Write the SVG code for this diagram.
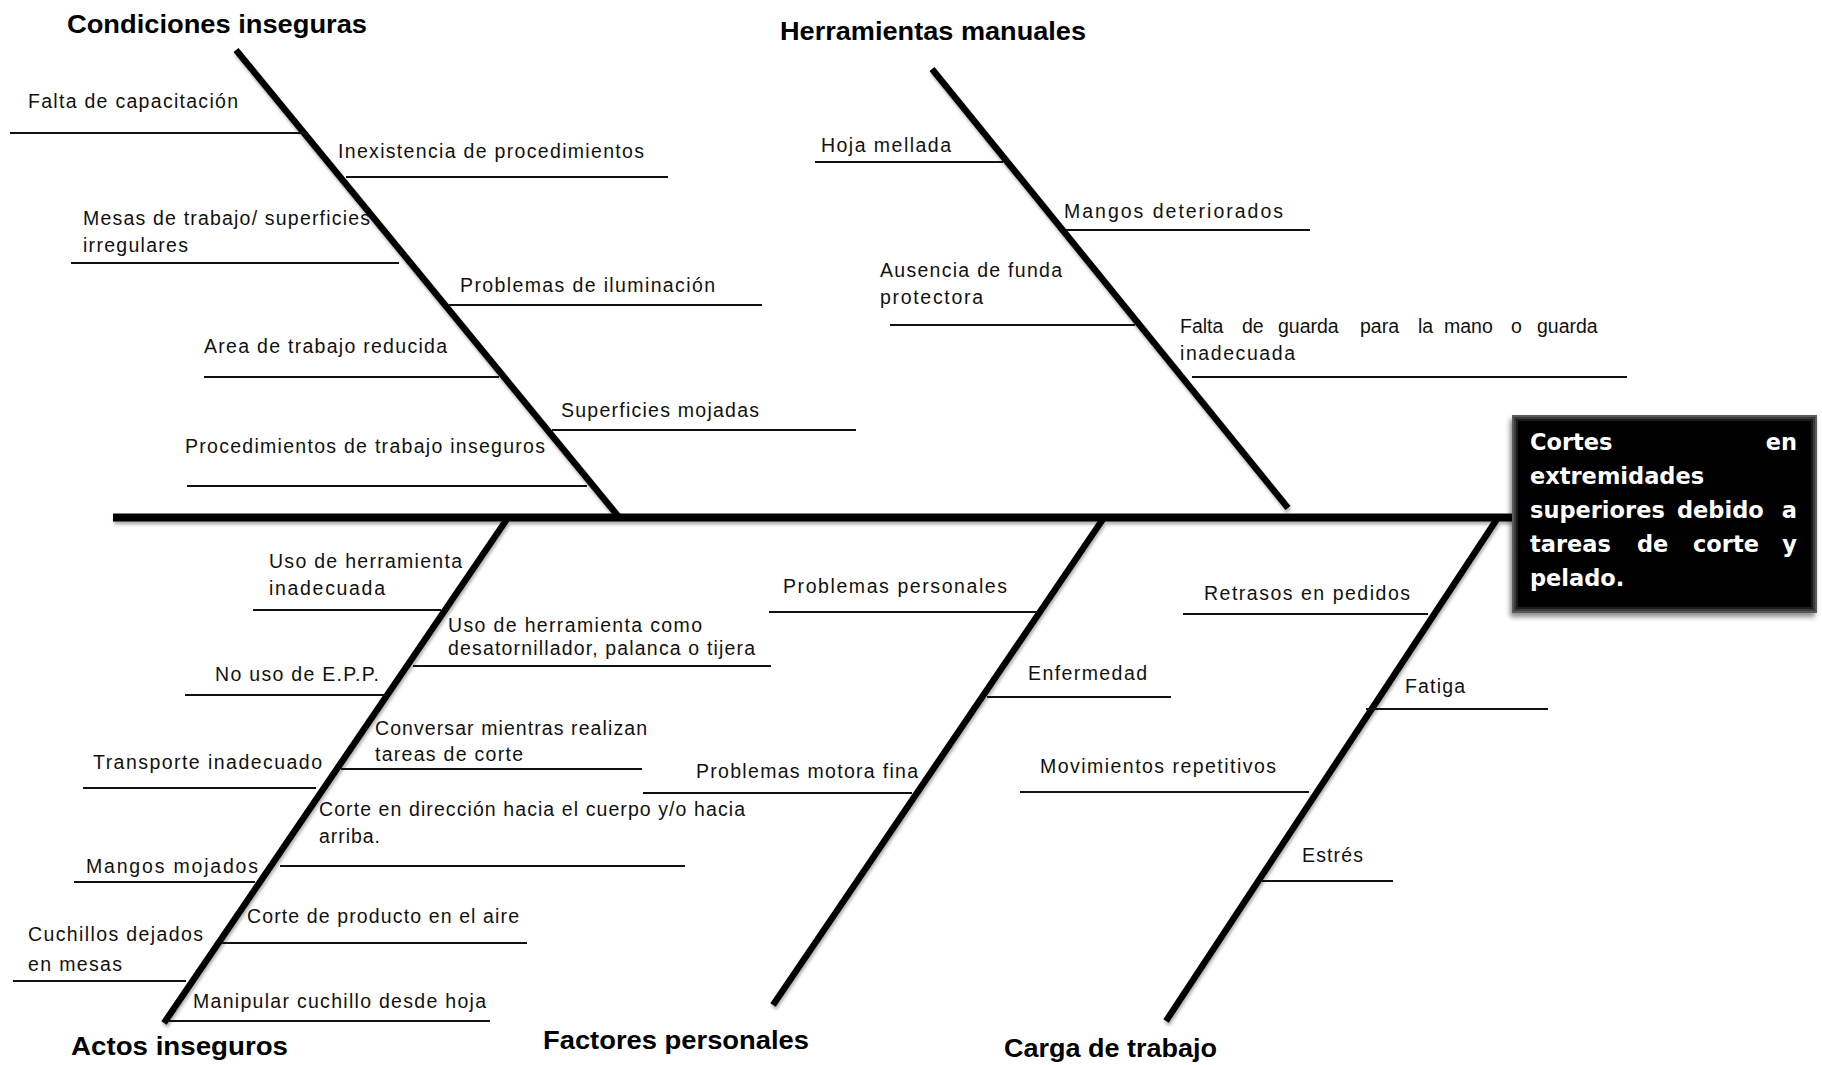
<svg xmlns="http://www.w3.org/2000/svg" width="1822" height="1065" viewBox="0 0 1822 1065">
  <defs>
    <filter id="soft" x="-5%" y="-5%" width="110%" height="120%">
      <feDropShadow dx="1" dy="3" stdDeviation="1.6" flood-color="#000" flood-opacity="0.3"/>
    </filter>
    <filter id="boxShadow" x="-10%" y="-10%" width="120%" height="130%">
      <feDropShadow dx="-2" dy="4" stdDeviation="2.5" flood-color="#000" flood-opacity="0.45"/>
    </filter>
  </defs>
  <style>
    .bone { stroke: #000; stroke-width: 6.5; fill: none; stroke-linecap: butt; }
    .spine { stroke: #000; stroke-width: 8; fill: none; }
    .sub { stroke: #111; stroke-width: 2; fill: none; }
    .lbl { font-family: "Liberation Sans", Arial, sans-serif; font-size: 19.5px; fill: #111; }
    .cat { font-family: "Liberation Sans", Arial, sans-serif; font-size: 25px; font-weight: bold; fill: #000; }
    .eff { font-family: "DejaVu Sans", Verdana, sans-serif; font-size: 22.5px; font-weight: bold; fill: #fff; }
  </style>

  <rect width="1822" height="1065" fill="#fff"/>

  <!-- spine and category bones -->
  <g id="connectors" filter="url(#soft)">
    <line class="spine" x1="113" y1="517.5" x2="1512" y2="517.5"/>
    <line class="bone" x1="236" y1="50" x2="618" y2="516"/>
    <line class="bone" x1="932" y1="69" x2="1288" y2="508"/>
    <line class="bone" x1="507" y1="519" x2="164" y2="1023"/>
    <line class="bone" x1="1103" y1="519" x2="773" y2="1005"/>
    <line class="bone" x1="1497" y1="519" x2="1166" y2="1021"/>
  </g>

  <!-- effect -->
  <g id="efecto">
    <g filter="url(#boxShadow)">
      <rect x="1512" y="415" width="305" height="198" fill="#5a5a5a"/>
    </g>
    <rect x="1514" y="417" width="301" height="194" fill="#3a3a3a"/>
    <rect x="1516" y="419" width="297" height="190" fill="#1c1c1c"/>
    <rect x="1518" y="421" width="293" height="186" fill="#000"/>
    <text class="eff" x="1530" y="450">Cortes</text>
    <text class="eff" x="1797" y="450" text-anchor="end">en</text>
    <text class="eff" x="1530" y="484">extremidades</text>
    <text class="eff" x="1530" y="518">superiores</text>
    <text class="eff" x="1677" y="518">debido</text>
    <text class="eff" x="1797" y="518" text-anchor="end">a</text>
    <text class="eff" x="1530" y="552">tareas</text>
    <text class="eff" x="1637" y="552">de</text>
    <text class="eff" x="1693" y="552">corte</text>
    <text class="eff" x="1797" y="552" text-anchor="end">y</text>
    <text class="eff" x="1530" y="586">pelado.</text>
  </g>

  <!-- category titles -->
  <g id="cat-condiciones"><text class="cat" x="67" y="33" textLength="300" lengthAdjust="spacingAndGlyphs">Condiciones inseguras</text></g>
  <g id="cat-herramientas"><text class="cat" x="780" y="40" textLength="306" lengthAdjust="spacingAndGlyphs">Herramientas manuales</text></g>
  <g id="cat-actos"><text class="cat" x="71" y="1055" textLength="217" lengthAdjust="spacingAndGlyphs">Actos inseguros</text></g>
  <g id="cat-factores"><text class="cat" x="543" y="1049" textLength="266" lengthAdjust="spacingAndGlyphs">Factores personales</text></g>
  <g id="cat-carga"><text class="cat" x="1004" y="1057" textLength="213" lengthAdjust="spacingAndGlyphs">Carga de trabajo</text></g>

  <!-- Condiciones inseguras: causes -->
  <g id="c-falta-capacitacion">
    <line class="sub" x1="10" y1="133" x2="308" y2="133"/>
    <text class="lbl" x="28" y="108" textLength="210">Falta de capacitación</text>
  </g>
  <g id="c-inexistencia">
    <line class="sub" x1="346" y1="177" x2="668" y2="177"/>
    <text class="lbl" x="338" y="158" textLength="306">Inexistencia de procedimientos</text>
  </g>
  <g id="c-mesas">
    <line class="sub" x1="71" y1="263" x2="399" y2="263"/>
    <text class="lbl" x="83" y="225" textLength="287">Mesas de trabajo/ superficies</text>
    <text class="lbl" x="83" y="252" textLength="105">irregulares</text>
  </g>
  <g id="c-iluminacion">
    <line class="sub" x1="449" y1="305" x2="762" y2="305"/>
    <text class="lbl" x="460" y="292" textLength="255">Problemas de iluminación</text>
  </g>
  <g id="c-area">
    <line class="sub" x1="204" y1="377" x2="499" y2="377"/>
    <text class="lbl" x="204" y="353" textLength="243">Area de trabajo reducida</text>
  </g>
  <g id="c-superficies">
    <line class="sub" x1="552" y1="430" x2="856" y2="430"/>
    <text class="lbl" x="561" y="417" textLength="198">Superficies mojadas</text>
  </g>
  <g id="c-procedimientos">
    <line class="sub" x1="187" y1="486" x2="587" y2="486"/>
    <text class="lbl" x="185" y="453" textLength="360">Procedimientos de trabajo inseguros</text>
  </g>

  <!-- Herramientas manuales: causes -->
  <g id="h-hoja">
    <line class="sub" x1="815" y1="162" x2="1003" y2="162"/>
    <text class="lbl" x="821" y="152" textLength="130">Hoja mellada</text>
  </g>
  <g id="h-mangos">
    <line class="sub" x1="1066" y1="230" x2="1310" y2="230"/>
    <text class="lbl" x="1064" y="218" textLength="219">Mangos deteriorados</text>
  </g>
  <g id="h-funda">
    <line class="sub" x1="890" y1="325" x2="1135" y2="325"/>
    <text class="lbl" x="880" y="277" textLength="182">Ausencia de funda</text>
    <text class="lbl" x="880" y="304" textLength="103">protectora</text>
  </g>
  <g id="h-guarda">
    <line class="sub" x1="1192" y1="377" x2="1627" y2="377"/>
    <text class="lbl" y="333"><tspan x="1180">Falta</tspan><tspan x="1242">de</tspan><tspan x="1278">guarda</tspan><tspan x="1360">para</tspan><tspan x="1418">la</tspan><tspan x="1444">mano</tspan><tspan x="1511">o</tspan><tspan x="1537">guarda</tspan></text>
    <text class="lbl" x="1180" y="360" textLength="115">inadecuada</text>
  </g>

  <!-- Actos inseguros: causes -->
  <g id="a-herramienta-inadecuada">
    <line class="sub" x1="253" y1="610" x2="441" y2="610"/>
    <text class="lbl" x="269" y="568" textLength="193">Uso de herramienta</text>
    <text class="lbl" x="269" y="595" textLength="116">inadecuada</text>
  </g>
  <g id="a-epp">
    <line class="sub" x1="185" y1="695" x2="385" y2="695"/>
    <text class="lbl" x="215" y="681" textLength="164">No uso de E.P.P.</text>
  </g>
  <g id="a-transporte">
    <line class="sub" x1="83" y1="788" x2="316" y2="788"/>
    <text class="lbl" x="93" y="769" textLength="229">Transporte inadecuado</text>
  </g>
  <g id="a-mangos">
    <line class="sub" x1="74" y1="882" x2="255" y2="882"/>
    <text class="lbl" x="86" y="873" textLength="172">Mangos mojados</text>
  </g>
  <g id="a-cuchillos">
    <line class="sub" x1="13" y1="981" x2="186" y2="981"/>
    <text class="lbl" x="28" y="941" textLength="175">Cuchillos dejados</text>
    <text class="lbl" x="28" y="971" textLength="94">en mesas</text>
  </g>
  <g id="a-herramienta-como">
    <line class="sub" x1="413" y1="666" x2="771" y2="666"/>
    <text class="lbl" x="448" y="632" textLength="254">Uso de herramienta como</text>
    <text class="lbl" x="448" y="655" textLength="307">desatornillador, palanca o tijera</text>
  </g>
  <g id="a-conversar">
    <line class="sub" x1="341" y1="769" x2="642" y2="769"/>
    <text class="lbl" x="375" y="735" textLength="272">Conversar mientras realizan</text>
    <text class="lbl" x="375" y="761" textLength="148">tareas de corte</text>
  </g>
  <g id="a-direccion">
    <line class="sub" x1="280" y1="866" x2="685" y2="866"/>
    <text class="lbl" x="319" y="816" textLength="426">Corte en dirección hacia el cuerpo y/o hacia</text>
    <text class="lbl" x="319" y="843" textLength="61">arriba.</text>
  </g>
  <g id="a-aire">
    <line class="sub" x1="222" y1="943" x2="527" y2="943"/>
    <text class="lbl" x="247" y="923" textLength="272">Corte de producto en el aire</text>
  </g>
  <g id="a-manipular">
    <line class="sub" x1="168" y1="1021" x2="490" y2="1021"/>
    <text class="lbl" x="193" y="1008" textLength="293">Manipular cuchillo desde hoja</text>
  </g>

  <!-- Factores personales: causes -->
  <g id="f-personales">
    <line class="sub" x1="769" y1="612" x2="1038" y2="612"/>
    <text class="lbl" x="783" y="593" textLength="224">Problemas personales</text>
  </g>
  <g id="f-enfermedad">
    <line class="sub" x1="987" y1="697" x2="1171" y2="697"/>
    <text class="lbl" x="1028" y="680" textLength="119">Enfermedad</text>
  </g>
  <g id="f-motora">
    <line class="sub" x1="643" y1="793" x2="912" y2="793"/>
    <text class="lbl" x="696" y="778" textLength="222">Problemas motora fina</text>
  </g>

  <!-- Carga de trabajo: causes -->
  <g id="k-retrasos">
    <line class="sub" x1="1183" y1="614" x2="1428" y2="614"/>
    <text class="lbl" x="1204" y="600" textLength="206">Retrasos en pedidos</text>
  </g>
  <g id="k-fatiga">
    <line class="sub" x1="1366" y1="709" x2="1548" y2="709"/>
    <text class="lbl" x="1405" y="693" textLength="60">Fatiga</text>
  </g>
  <g id="k-movimientos">
    <line class="sub" x1="1020" y1="792" x2="1309" y2="792"/>
    <text class="lbl" x="1040" y="773" textLength="236">Movimientos repetitivos</text>
  </g>
  <g id="k-estres">
    <line class="sub" x1="1260" y1="881" x2="1393" y2="881"/>
    <text class="lbl" x="1302" y="862" textLength="61">Estrés</text>
  </g>
</svg>
